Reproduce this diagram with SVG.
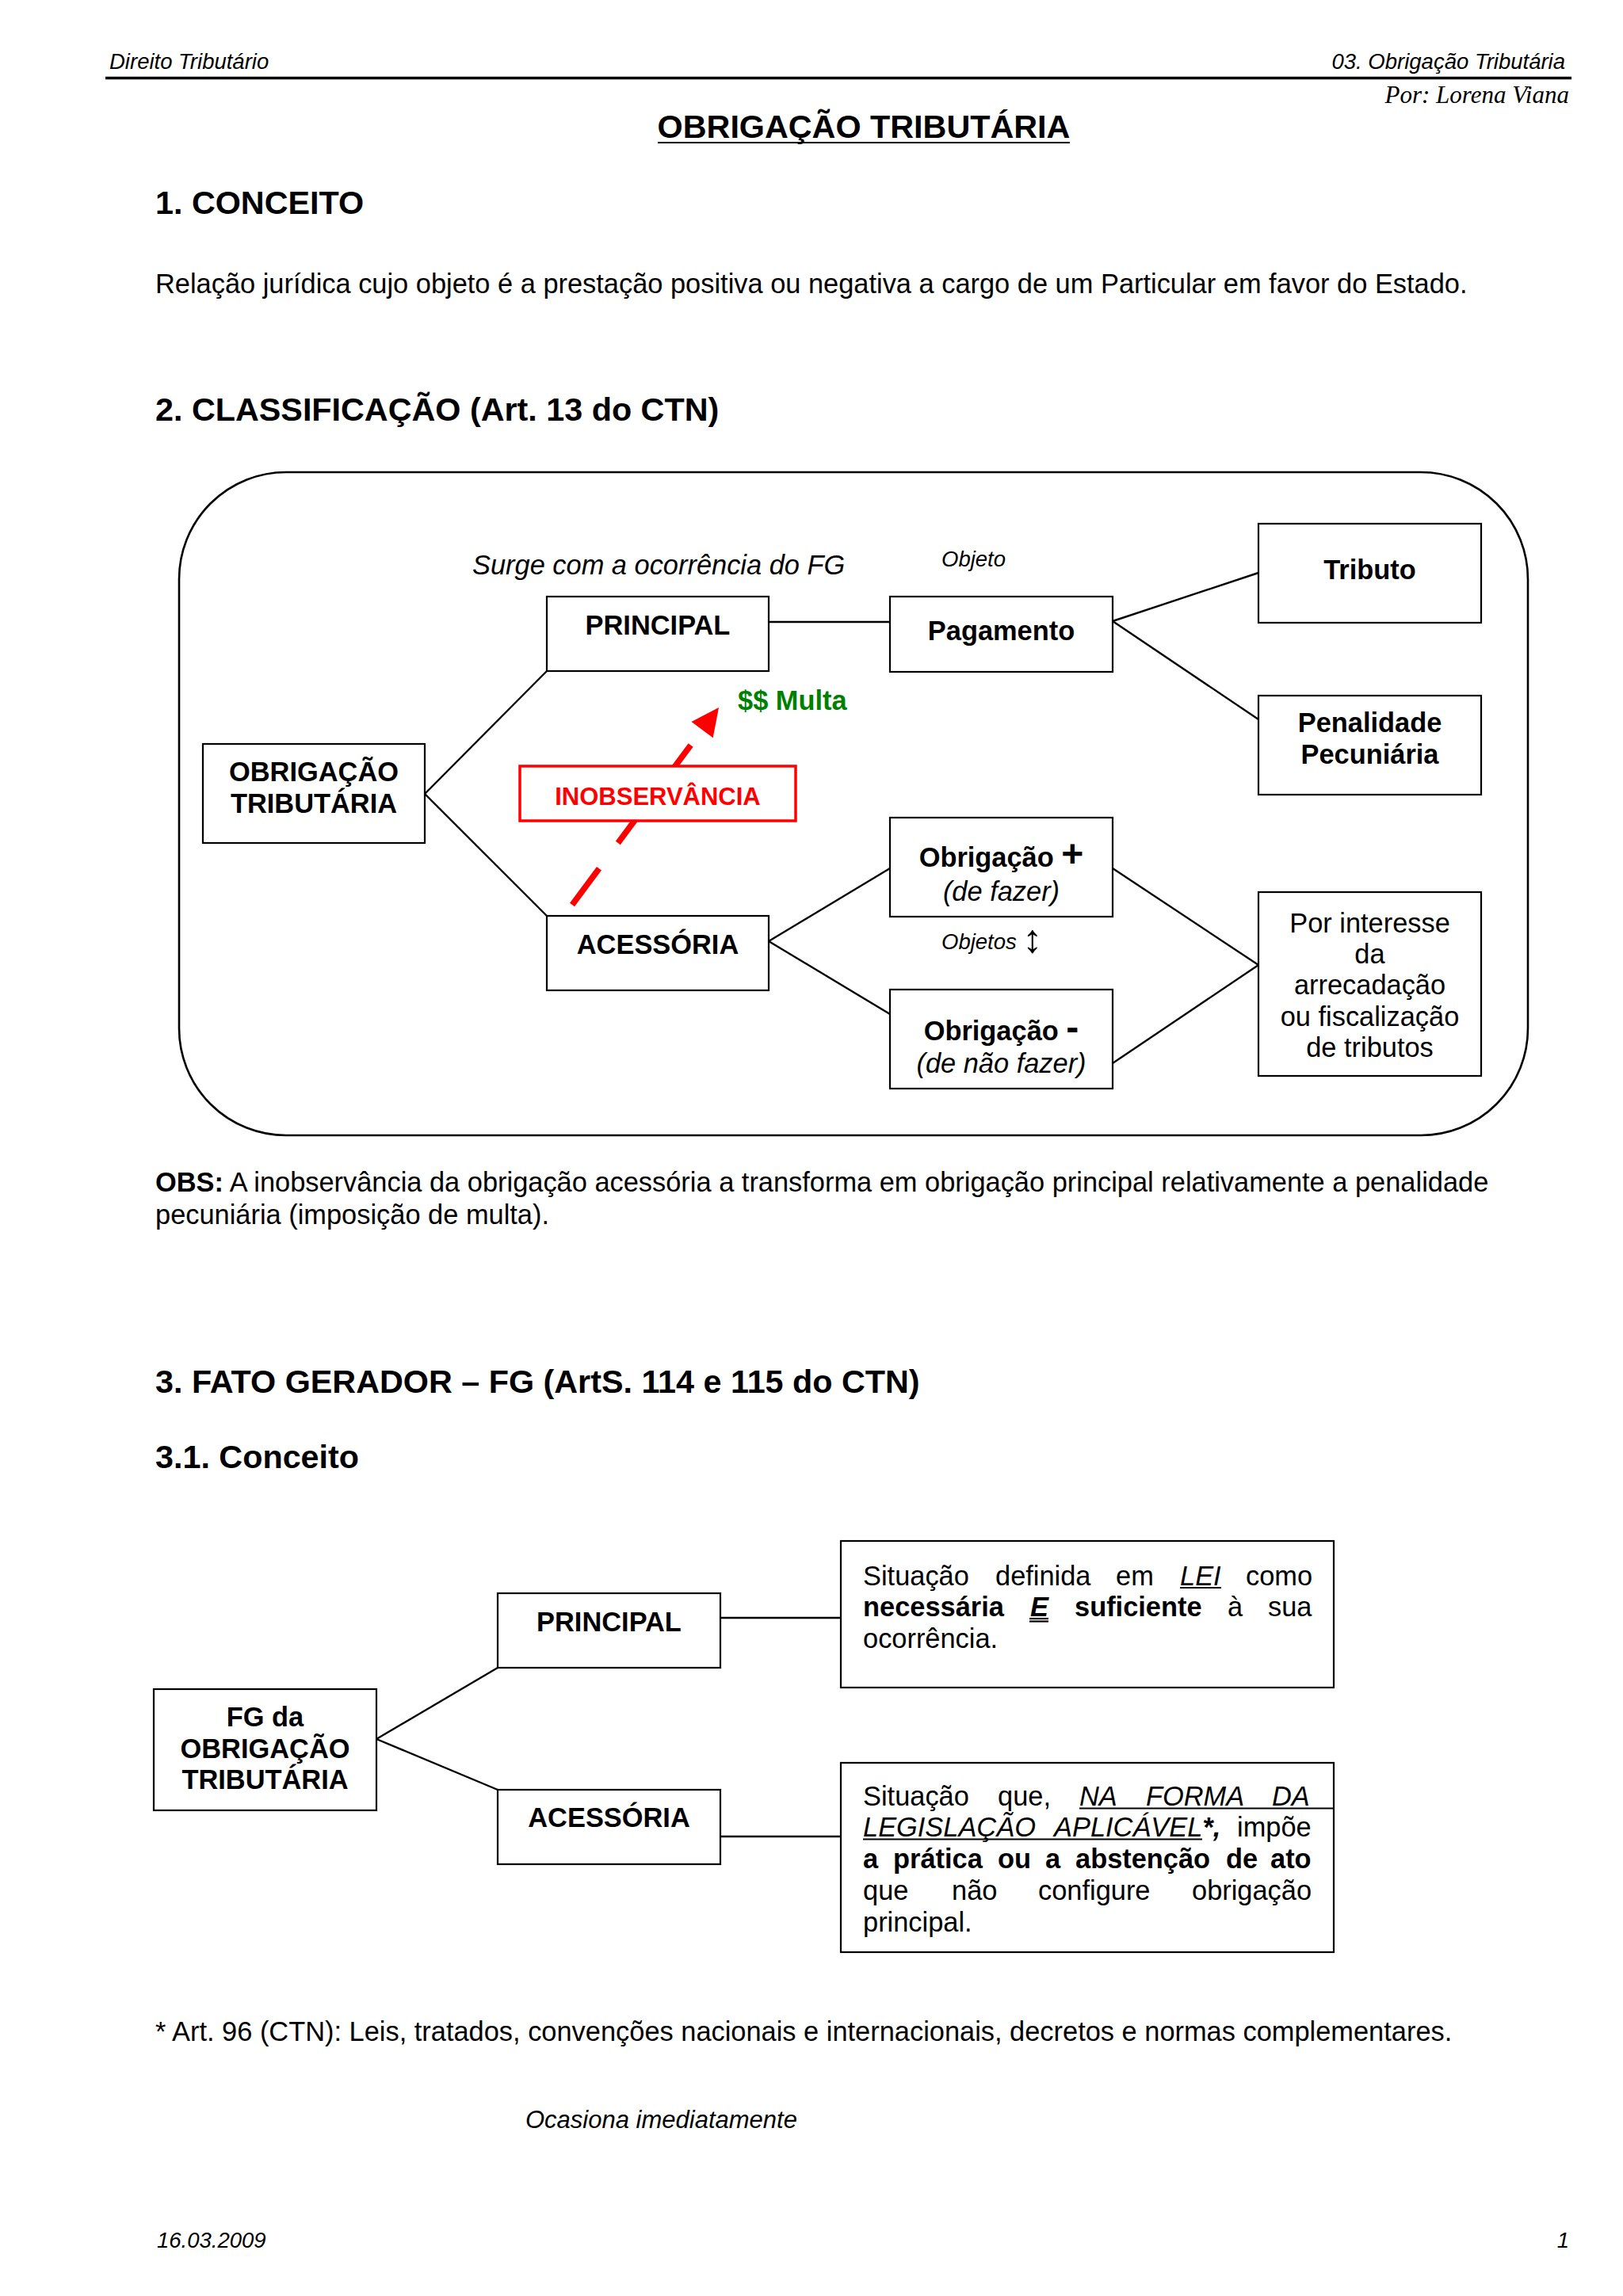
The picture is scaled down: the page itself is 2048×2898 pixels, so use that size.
<svg xmlns="http://www.w3.org/2000/svg" width="2048" height="2898" viewBox="0 0 2048 2898">
<defs>
<style>
text { font-family: 'Liberation Sans', Arial, sans-serif; fill: #000; }
.s { font-size: 27.5px; font-style: italic; }
.h { font-size: 41.3px; font-weight: bold; }
.t { font-size: 34.4px; }
.tb { font-size: 34.4px; font-weight: bold; }
.ti { font-size: 34.4px; font-style: italic; }
.mid { text-anchor: middle; }
.box { fill: #fff; stroke: #000; stroke-width: 2.2; }
.con line { stroke: #000; stroke-width: 2.4; }
.ul { stroke: #000; stroke-width: 2.2; }
</style>
</defs>
<rect x="0" y="0" width="2048" height="2898" fill="#fff"/>

<!-- page header -->
<g id="header">
<text class="s" x="138" y="87">Direito Tributário</text>
<text class="s" x="1975" y="87" text-anchor="end">03. Obrigação Tributária</text>
<line x1="133" y1="98.5" x2="1983" y2="98.5" stroke="#000" stroke-width="3.5"/>
<text x="1980" y="130" text-anchor="end" style="font-family:'Liberation Serif','Times New Roman',serif;font-style:italic;font-size:31px">Por: Lorena Viana</text>
<text class="h mid" x="1090" y="174">OBRIGAÇÃO TRIBUTÁRIA</text>
<line class="ul" x1="830" y1="180" x2="1350" y2="180" stroke-width="3"/>
</g>

<g id="sec1">
<text class="h" x="196" y="270">1. CONCEITO</text>
<text class="t" x="196" y="370">Relação jurídica cujo objeto é a prestação positiva ou negativa a cargo de um Particular em favor do Estado.</text>
<text class="h" x="196" y="531">2. CLASSIFICAÇÃO (Art. 13 do CTN)</text>
</g>

<!-- diagram 1 frame -->
<rect id="frame" x="226" y="596" width="1702" height="837" rx="135" ry="135" fill="none" stroke="#000" stroke-width="2.6"/>

<g id="connectors1" class="con">
<line x1="536" y1="1002" x2="690" y2="847"/>
<line x1="536" y1="1002" x2="690" y2="1156"/>
<line x1="970" y1="785" x2="1123" y2="785"/>
<line x1="1404" y1="784" x2="1588" y2="723"/>
<line x1="1404" y1="784" x2="1588" y2="908"/>
<line x1="970" y1="1188" x2="1123" y2="1096"/>
<line x1="970" y1="1188" x2="1123" y2="1280"/>
<line x1="1404" y1="1096" x2="1588" y2="1218"/>
<line x1="1404" y1="1342" x2="1588" y2="1218"/>
</g>

<g id="redarrow">
<line x1="722" y1="1142" x2="886" y2="921" stroke="#ff0000" stroke-width="7.5" stroke-dasharray="57 40"/>
<polygon points="907,893 872.5,911 899.7,931.2" fill="#ff0000"/>
</g>

<text class="ti" x="596" y="725">Surge com a ocorrência do FG</text>
<text class="s" x="1188" y="715">Objeto</text>
<text x="931" y="896" style="font-size:34.4px;font-weight:bold;fill:#008000">$$ Multa</text>
<text class="s" x="1188" y="1198">Objetos <tspan style="font-style:normal;font-size:50px" dy="4">↕</tspan></text>

<g id="n-obrigacao">
<rect class="box" x="256" y="939" width="280" height="125"/>
<text class="tb mid" x="396" y="986">OBRIGAÇÃO</text>
<text class="tb mid" x="396" y="1026">TRIBUTÁRIA</text>
</g>
<g id="n-principal">
<rect class="box" x="690" y="753" width="280" height="94"/>
<text class="tb mid" x="830" y="801">PRINCIPAL</text>
</g>
<g id="n-acessoria">
<rect class="box" x="690" y="1156" width="280" height="94"/>
<text class="tb mid" x="830" y="1204">ACESSÓRIA</text>
</g>
<g id="n-inobs">
<rect x="656" y="967" width="348" height="69" fill="#fff" stroke="#ff0000" stroke-width="3.5"/>
<text class="mid" x="830" y="1016" style="font-size:31px;font-weight:bold;fill:#ff0000">INOBSERVÂNCIA</text>
</g>
<g id="n-pagamento">
<rect class="box" x="1123" y="753" width="281" height="95"/>
<text class="tb mid" x="1263.5" y="808">Pagamento</text>
</g>
<g id="n-tributo">
<rect class="box" x="1588" y="661" width="281" height="125"/>
<text class="tb mid" x="1728.5" y="731">Tributo</text>
</g>
<g id="n-penalidade">
<rect class="box" x="1588" y="878" width="281" height="125"/>
<text class="tb mid" x="1728.5" y="924">Penalidade</text>
<text class="tb mid" x="1728.5" y="964">Pecuniária</text>
</g>
<g id="n-obrigmais">
<rect class="box" x="1123" y="1032" width="281" height="125"/>
<text class="tb mid" x="1263.5" y="1094">Obrigação <tspan style="font-size:48px">+</tspan></text>
<text class="ti mid" x="1263.5" y="1137">(de fazer)</text>
</g>
<g id="n-obrigmenos">
<rect class="box" x="1123" y="1249" width="281" height="125"/>
<text class="tb mid" x="1263.5" y="1313">Obrigação <tspan style="font-size:48px">-</tspan></text>
<text class="ti mid" x="1263.5" y="1354">(de não fazer)</text>
</g>
<g id="n-interesse">
<rect class="box" x="1588" y="1126" width="281" height="232"/>
<text class="t mid" x="1728.5" y="1177">Por interesse</text>
<text class="t mid" x="1728.5" y="1216">da</text>
<text class="t mid" x="1728.5" y="1255">arrecadação</text>
<text class="t mid" x="1728.5" y="1295">ou fiscalização</text>
<text class="t mid" x="1728.5" y="1334">de tributos</text>
</g>

<g id="obs">
<text class="t" x="196" y="1504"><tspan font-weight="bold">OBS:</tspan> A inobservância da obrigação acessória a transforma em obrigação principal relativamente a penalidade</text>
<text class="t" x="196" y="1545">pecuniária (imposição de multa).</text>
</g>

<g id="sec3">
<text class="h" x="196" y="1758">3. FATO GERADOR – FG (ArtS. 114 e 115 do CTN)</text>
<text class="h" x="196" y="1853">3.1. Conceito</text>
</g>

<g id="connectors2" class="con">
<line x1="475" y1="2195" x2="628" y2="2105"/>
<line x1="475" y1="2195" x2="628" y2="2259"/>
<line x1="909" y1="2042" x2="1061" y2="2042"/>
<line x1="909" y1="2318" x2="1061" y2="2318"/>
</g>

<g id="n-fg">
<rect class="box" x="194" y="2132" width="281" height="153"/>
<text class="tb mid" x="334.5" y="2179">FG da</text>
<text class="tb mid" x="334.5" y="2219">OBRIGAÇÃO</text>
<text class="tb mid" x="334.5" y="2258">TRIBUTÁRIA</text>
</g>
<g id="n-principal2">
<rect class="box" x="628" y="2011" width="281" height="94"/>
<text class="tb mid" x="768.5" y="2059">PRINCIPAL</text>
</g>
<g id="n-acessoria2">
<rect class="box" x="628" y="2259" width="281" height="94"/>
<text class="tb mid" x="768.5" y="2306">ACESSÓRIA</text>
</g>

<g id="n-def1">
<rect class="box" x="1061" y="1945" width="622" height="185"/>
<text class="t" y="2001"><tspan x="1089">Situação</tspan><tspan x="1256">definida</tspan><tspan x="1408">em</tspan><tspan x="1489" font-style="italic">LEI</tspan><tspan x="1572">como</tspan></text>
<line class="ul" x1="1489" y1="2004" x2="1541" y2="2004"/>
<text class="t" y="2040"><tspan x="1089" font-weight="bold">necessária</tspan><tspan x="1300" font-weight="bold" font-style="italic">E</tspan><tspan x="1356" font-weight="bold">suficiente</tspan><tspan x="1549">à</tspan><tspan x="1600">sua</tspan></text>
<line class="ul" x1="1299" y1="2043" x2="1323" y2="2043" stroke-width="1.6"/>
<line class="ul" x1="1299" y1="2046.5" x2="1323" y2="2046.5" stroke-width="1.6"/>
<text class="t" x="1089" y="2080">ocorrência.</text>
</g>

<g id="n-def2">
<rect class="box" x="1061" y="2225" width="622" height="239"/>
<text class="t" y="2279"><tspan x="1089">Situação</tspan><tspan x="1259">que,</tspan><tspan x="1362" font-style="italic">NA</tspan><tspan x="1446" font-style="italic">FORMA</tspan><tspan x="1605" font-style="italic">DA</tspan></text>
<line class="ul" x1="1362" y1="2282.5" x2="1683" y2="2282.5"/>
<text class="t" y="2318"><tspan x="1089" font-style="italic">LEGISLAÇÃO</tspan><tspan x="1330" font-style="italic">APLICÁVEL</tspan><tspan font-weight="bold" font-style="italic">*,</tspan><tspan x="1561">impõe</tspan></text>
<line class="ul" x1="1089" y1="2321.5" x2="1517" y2="2321.5"/>
<text class="tb" y="2358"><tspan x="1089">a</tspan><tspan x="1127">prática</tspan><tspan x="1259">ou</tspan><tspan x="1319">a</tspan><tspan x="1357">abstenção</tspan><tspan x="1547">de</tspan><tspan x="1603">ato</tspan></text>
<text class="t" y="2398"><tspan x="1089">que</tspan><tspan x="1201">não</tspan><tspan x="1310">configure</tspan><tspan x="1504">obrigação</tspan></text>
<text class="t" x="1089" y="2438">principal.</text>
</g>

<g id="footnotes">
<text class="t" x="196" y="2576">* Art. 96 (CTN): Leis, tratados, convenções nacionais e internacionais, decretos e normas complementares.</text>
<text x="663" y="2686" style="font-size:31px;font-style:italic">Ocasiona imediatamente</text>
<text class="s" x="198" y="2837">16.03.2009</text>
<text class="s" x="1980" y="2837" text-anchor="end">1</text>
</g>
</svg>
